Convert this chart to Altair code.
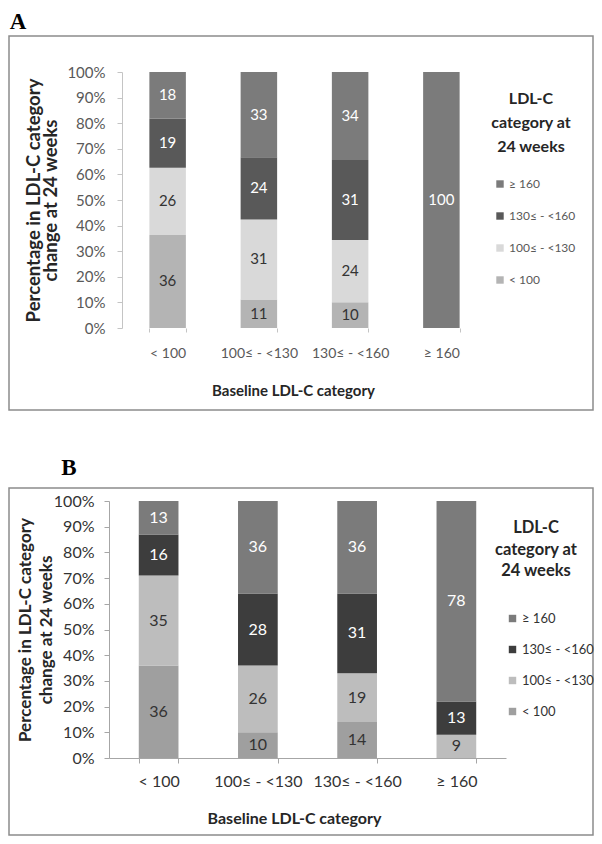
import altair as alt
import pandas as pd

# ---------------- data ----------------
baseline_cats = ["< 100", "100≤ - <130", "130≤ - <160", "≥ 160"]
week24_cats = ["< 100", "100≤ - <130", "130≤ - <160", "≥ 160"]   # bottom -> top of stack
legend_order = ["≥ 160", "130≤ - <160", "100≤ - <130", "< 100"]
legend_title = ["LDL-C", "category at", "24 weeks"]

# Panel A: for each baseline category, % in week-24 category (<100, 100-130, 130-160, >=160)
a_lt100 = [36, 26, 19, 18]
a_100_130 = [11, 31, 24, 33]
a_130_160 = [10, 24, 31, 34]
a_ge160 = [0, 0, 0, 100]

# Panel B
b_lt100 = [36, 35, 16, 13]
b_100_130 = [10, 26, 28, 36]
b_130_160 = [14, 19, 31, 36]
b_ge160 = [0, 9, 13, 78]

colors_a = ["#7b7b7b", "#595959", "#d9d9d9", "#b4b4b4"]   # in legend_order
colors_b = ["#7b7b7b", "#3d3d3d", "#bdbdbd", "#9f9f9f"]

y_ticks = [0, 0.1, 0.2, 0.3, 0.4, 0.5, 0.6, 0.7, 0.8, 0.9, 1.0]

FONT = "Lato"

# ---------------- layout (pixels, relative to panel A's plot origin) ----------------
W, H = 365, 256          # panel A plot area
PAD = {"left": 114, "top": 64, "right": 107, "bottom": 508}


def build_df(rows, panel_id):
    recs = []
    for base, vals in zip(baseline_cats, rows):
        for rank, (cat, v) in enumerate(zip(week24_cats, vals)):
            recs.append({"baseline": base, "cat": cat, "rank": rank, "value": v, "panel": panel_id})
    return pd.DataFrame(recs)


df_a = build_df([a_lt100, a_100_130, a_130_160, a_ge160], "A")
df_b = build_df([b_lt100, b_100_130, b_130_160, b_ge160], "B")


def panel(df, colors, s):
    base = alt.Chart(df).transform_stack(
        stack="value", groupby=["baseline"], as_=["y0", "y1"], offset="normalize",
        sort=[alt.SortField("rank", order="ascending")],
    )
    xscale = alt.Scale(paddingInner=0.6, paddingOuter=0.3, range=s["xrange"])
    yscale = alt.Scale(domain=[0, 1], nice=False, range=s["yrange"])
    xaxis = alt.Axis(
        orient="bottom", offset=s["xoff"],
        title="Baseline LDL-C category", labelAngle=0, tickBand="extent",
        domain=s["xdomain"], domainColor=s["axcolor"], tickColor=s["axcolor"],
        tickSize=s["xtick"], labelFont=FONT, labelFontSize=s["xlab"], labelColor=s["labcolor"],
        labelBaseline="middle", labelPadding=s["xlabpad"],
        titleFont=FONT, titleFontSize=s["title"], titleFontWeight="bold", titleColor="#262626",
        titleX=s["xtitlex"], titleY=s["xtitley"], titleBaseline="middle",
    )
    yaxis = alt.Axis(
        orient="left", offset=s["yoff"],
        title=["Percentage in LDL-C category", "change at 24 weeks"],
        values=y_ticks, format=".0%", grid=False, labelOverlap=False, labelFlush=False,
        domainColor=s["axcolor"], tickColor=s["axcolor"], tickSize=5,
        labelFont=FONT, labelFontSize=s["ylab"], labelColor=s["labcolor"], labelPadding=s["ylabpad"],
        titleFont=FONT, titleFontSize=s["ytitle"], titleFontWeight="bold", titleColor="#262626",
        titleX=s["ytitlex"], titleY=s["ytitley"], titleAngle=270, titleAlign="center",
        titleBaseline="middle", titleLineHeight=s["ytitlelh"],
    )
    legend = alt.Legend(
        orient="none", legendX=s["legx"], legendY=s["legy"], padding=0, title=None,
        labelFont=FONT, labelFontSize=s["leglab"], labelColor=s["labcolor"], labelOffset=3,
        symbolType="square", symbolSize=55, symbolStrokeWidth=0, rowPadding=s["legrow"],
    )
    bars = base.mark_bar().encode(
        x=alt.X("baseline:N", sort=baseline_cats, scale=xscale, axis=xaxis),
        y=alt.Y("y0:Q", scale=yscale, axis=yaxis),
        y2="y1:Q",
        color=alt.Color("cat:N", scale=alt.Scale(domain=legend_order, range=colors), legend=legend),
    )
    text = base.transform_filter("datum.value > 0").transform_calculate(
        mid="(datum.y0 + datum.y1) / 2"
    ).mark_text(font=FONT, fontSize=s["seg"], baseline="middle").encode(
        x=alt.X("baseline:N", sort=baseline_cats, scale=xscale, axis=xaxis),
        y=alt.Y("mid:Q", scale=yscale, axis=yaxis),
        text=alt.Text("value:Q"),
        color=alt.condition("datum.rank >= 2", alt.value("white"), alt.value("#333333")),
    )
    one = alt.Chart(pd.DataFrame({"k": [0]}))
    frame = one.mark_rect(fill="transparent", stroke="#8c8c8c", strokeWidth=1.5).encode(
        x=alt.value(s["fx"][0]), x2=alt.value(s["fx"][1]),
        y=alt.value(s["fy"][0]), y2=alt.value(s["fy"][1]),
    )
    let = one.mark_text(font="Liberation Serif", fontSize=23, fontWeight="bold",
                        align="center", baseline="top", color="black").encode(
        x=alt.value(s["letx"]), y=alt.value(s["lety"]), text=alt.value(s["letter"]),
    )
    ltitle = one.mark_text(font=FONT, fontSize=s["legtitle"], fontWeight="bold",
                           align="center", baseline="top", color="#262626",
                           lineHeight=s["legtitlelh"]).encode(
        x=alt.value(s["ltx"]), y=alt.value(s["lty"]), text=alt.value(legend_title),
    )
    return alt.layer(bars, text), alt.layer(frame, let, ltitle)


sa = dict(xrange=[0, 365], yrange=[256, 0], xoff=0, yoff=0,
          xdomain=False, axcolor="#c4c4c4", xtick=4, xlab=14, ylab=15,
          labcolor="#595959", xlabpad=21, title=15, xtitlex=171, xtitley=62, ylabpad=12,
          ytitle=18.5, ytitlex=-89, ytitley=128, ytitlelh=17, legx=372, legy=106, legtitle=16,
          legtitlelh=24, ltx=409, lty=19, leglab=12, legrow=20, seg=15,
          fx=(-113, 471), fy=(-36, 338), letx=-104, lety=-61.5, letter="A")
sb = dict(xrange=[-13, 384], yrange=[686, 429], xoff=430, yoff=13,
          xdomain=True, axcolor="#a6a6a6", xtick=5, xlab=16, ylab=16,
          labcolor="#333333", xlabpad=18, title=16, xtitlex=172, xtitley=60, ylabpad=10,
          ytitle=17, ytitlex=-84, ytitley=557.5, ytitlelh=21, legx=384, legy=540, legtitle=16.5,
          legtitlelh=21.5, ltx=414, lty=448, leglab=13, legrow=17, seg=16,
          fx=(-113, 471), fy=(416, 763), letx=-53, lety=385, letter="B")

data_a, deco_a = panel(df_a, colors_a, sa)
data_b, deco_b = panel(df_b, colors_b, sb)

chart = alt.layer(data_a, data_b, deco_a, deco_b).resolve_scale(
    x="independent", y="independent", color="independent"
).resolve_axis(x="independent", y="independent").resolve_legend(color="independent").properties(
    width=W, height=H, padding=PAD, background="white",
    autosize=alt.AutoSizeParams(type="none"),
).configure_view(stroke=None)

chart.save("out.html", embed_options={"renderer": "svg", "actions": False})
